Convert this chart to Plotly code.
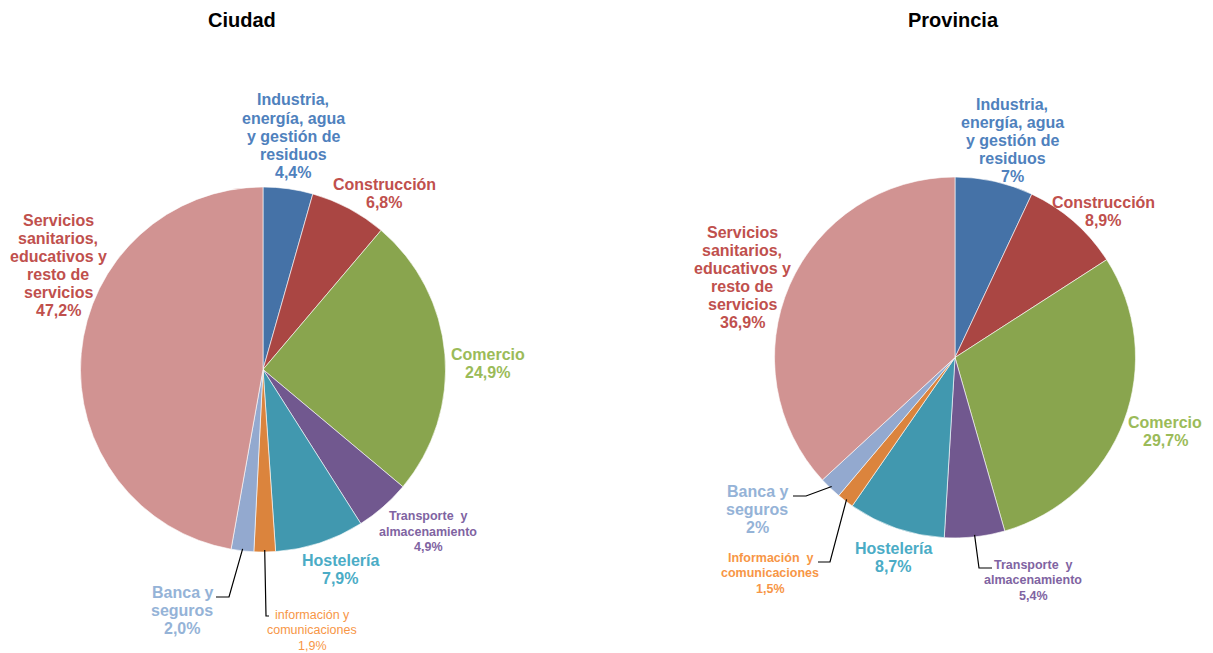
import math
import plotly.graph_objects as go

W, H = 1213, 653

# ---------------- data ----------------
categories = [
    "Industria, energía, agua y gestión de residuos",
    "Construcción",
    "Comercio",
    "Transporte y almacenamiento",
    "Hostelería",
    "Información y comunicaciones",
    "Banca y seguros",
    "Servicios sanitarios, educativos y resto de servicios",
]
ciudad_values = [4.4, 6.8, 24.9, 4.9, 7.9, 1.9, 2.0, 47.2]
provincia_values = [7.0, 8.9, 29.7, 5.4, 8.7, 1.5, 2.0, 36.9]

ciudad_labels = [
    "Industria,<br>energía, agua<br>y gestión de<br>residuos<br>4,4%",
    "Construcción<br>6,8%",
    "Comercio<br>24,9%",
    "Transporte  y<br>almacenamiento<br>4,9%",
    "Hostelería<br>7,9%",
    "información y<br>comunicaciones<br>1,9%",
    "Banca y<br>seguros<br>2,0%",
    "Servicios<br>sanitarios,<br>educativos y<br>resto de<br>servicios<br>47,2%",
]
provincia_labels = [
    "Industria,<br>energía, agua<br>y gestión de<br>residuos<br>7%",
    "Construcción<br>8,9%",
    "Comercio<br>29,7%",
    "Transporte  y<br>almacenamiento<br>5,4%",
    "Hostelería<br>8,7%",
    "Información  y<br>comunicaciones<br>1,5%",
    "Banca y<br>seguros<br>2%",
    "Servicios<br>sanitarios,<br>educativos y<br>resto de<br>servicios<br>36,9%",
]

# ---------------- styles / layout ----------------
slice_colors = ["#4572A7", "#AA4643", "#89A54E", "#71588F",
                "#4198AF", "#DB843D", "#93A9CF", "#D19392"]
label_colors = ["#4F81BD", "#C0504D", "#9BBB59", "#8064A2",
                "#4BACC6", "#F79646", "#95B3D7", "#C0504D"]
small = [False, False, False, True, False, True, False, False]

# pie geometry in pixels: center x, center y, radius
ciudad_geo = (263, 369.5, 182.5)
provincia_geo = (955, 357.5, 180.5)

# label centers (pixels)
ciudad_label_pos = [(293, 136), (384, 193.5), (487.5, 363.5), (428, 531.5),
                    (340, 569), (312, 630), (182, 610), (58, 265.5)]
provincia_label_pos = [(1012, 140.5), (1103, 211), (1165, 431), (1033, 580),
                       (893, 557), (770, 573), (757, 509.5), (742, 277.5)]
ciudad_label_bold = [True, True, True, True, True, False, True, True]
provincia_label_bold = [True] * 8

# leader lines: (category index, elbow point, end point)
ciudad_leaders = [(5, (266, 616), (269, 616)), (6, (229, 597), (216, 597))]
provincia_leaders = [(6, (806, 496), (793, 496)),
                     (5, (830, 562), (818, 562)),
                     (3, (979, 568), (992, 568))]

FONT = "Liberation Sans, Arial, sans-serif"
BIG, BIG_STEP = 16, 18
SMALL, SMALL_STEP = 12.5, 15.5


def domain(geo):
    cx, cy, r = geo
    return dict(x=[(cx - r) / W, (cx + r) / W],
                y=[1 - (cy + r) / H, 1 - (cy - r) / H])


fig = go.Figure()
for vals, geo, name in [(ciudad_values, ciudad_geo, "Ciudad"),
                        (provincia_values, provincia_geo, "Provincia")]:
    fig.add_trace(go.Pie(
        labels=categories, values=vals, name=name,
        sort=False, direction="clockwise", rotation=0,
        marker=dict(colors=slice_colors, line=dict(color="white", width=0.6)),
        textinfo="none", hoverinfo="label+percent",
        domain=domain(geo), showlegend=False,
    ))

annotations = []
shapes = []


def px(x, y):
    return x / W, 1 - y / H


for labels, positions, bolds in [
        (ciudad_labels, ciudad_label_pos, ciudad_label_bold),
        (provincia_labels, provincia_label_pos, provincia_label_bold)]:
    for i, (txt, (x, y)) in enumerate(zip(labels, positions)):
        lines = txt.split("<br>")
        size = SMALL if small[i] else BIG
        step = SMALL_STEP if small[i] else BIG_STEP
        n = len(lines)
        for k, line in enumerate(lines):
            ly = y + (k - (n - 1) / 2) * step
            ax, ay = px(x, ly)
            annotations.append(dict(
                x=ax, y=ay, xref="paper", yref="paper", text=line,
                showarrow=False, xanchor="center", yanchor="middle",
                align="center",
                font=dict(family=FONT, size=size, color=label_colors[i],
                          weight="bold" if bolds[i] else "normal"),
            ))

for vals, geo, leaders in [(ciudad_values, ciudad_geo, ciudad_leaders),
                           (provincia_values, provincia_geo, provincia_leaders)]:
    total = sum(vals)
    cx, cy, r = geo
    for idx, elbow, end in leaders:
        start_frac = sum(vals[:idx]) / total
        mid = start_frac + vals[idx] / total / 2
        th = 2 * math.pi * mid
        sx = cx + (r - 2) * math.sin(th)
        sy = cy - (r - 2) * math.cos(th)
        pts = [(sx, sy), elbow, end]
        path = "M " + " L ".join(f"{px(a, b)[0]},{px(a, b)[1]}" for a, b in pts)
        shapes.append(dict(type="path", path=path, xref="paper", yref="paper",
                           line=dict(color="#000000", width=1.2)))

for title, (x, y) in [("Ciudad", (242, 20)), ("Provincia", (953, 20))]:
    ax, ay = px(x, y)
    annotations.append(dict(
        x=ax, y=ay, xref="paper", yref="paper", text="<b>" + title + "</b>",
        showarrow=False, xanchor="center", yanchor="middle",
        font=dict(family=FONT, size=20, color="#000000"),
    ))

fig.update_layout(
    width=W, height=H,
    margin=dict(l=0, r=0, t=0, b=0),
    paper_bgcolor="white", plot_bgcolor="white",
    annotations=annotations, shapes=shapes,
)

fig.write_html("out.html",
               config={"displayModeBar": False},
               post_script="document.body.style.margin='0px';"
                           "document.body.style.overflow='hidden';")
